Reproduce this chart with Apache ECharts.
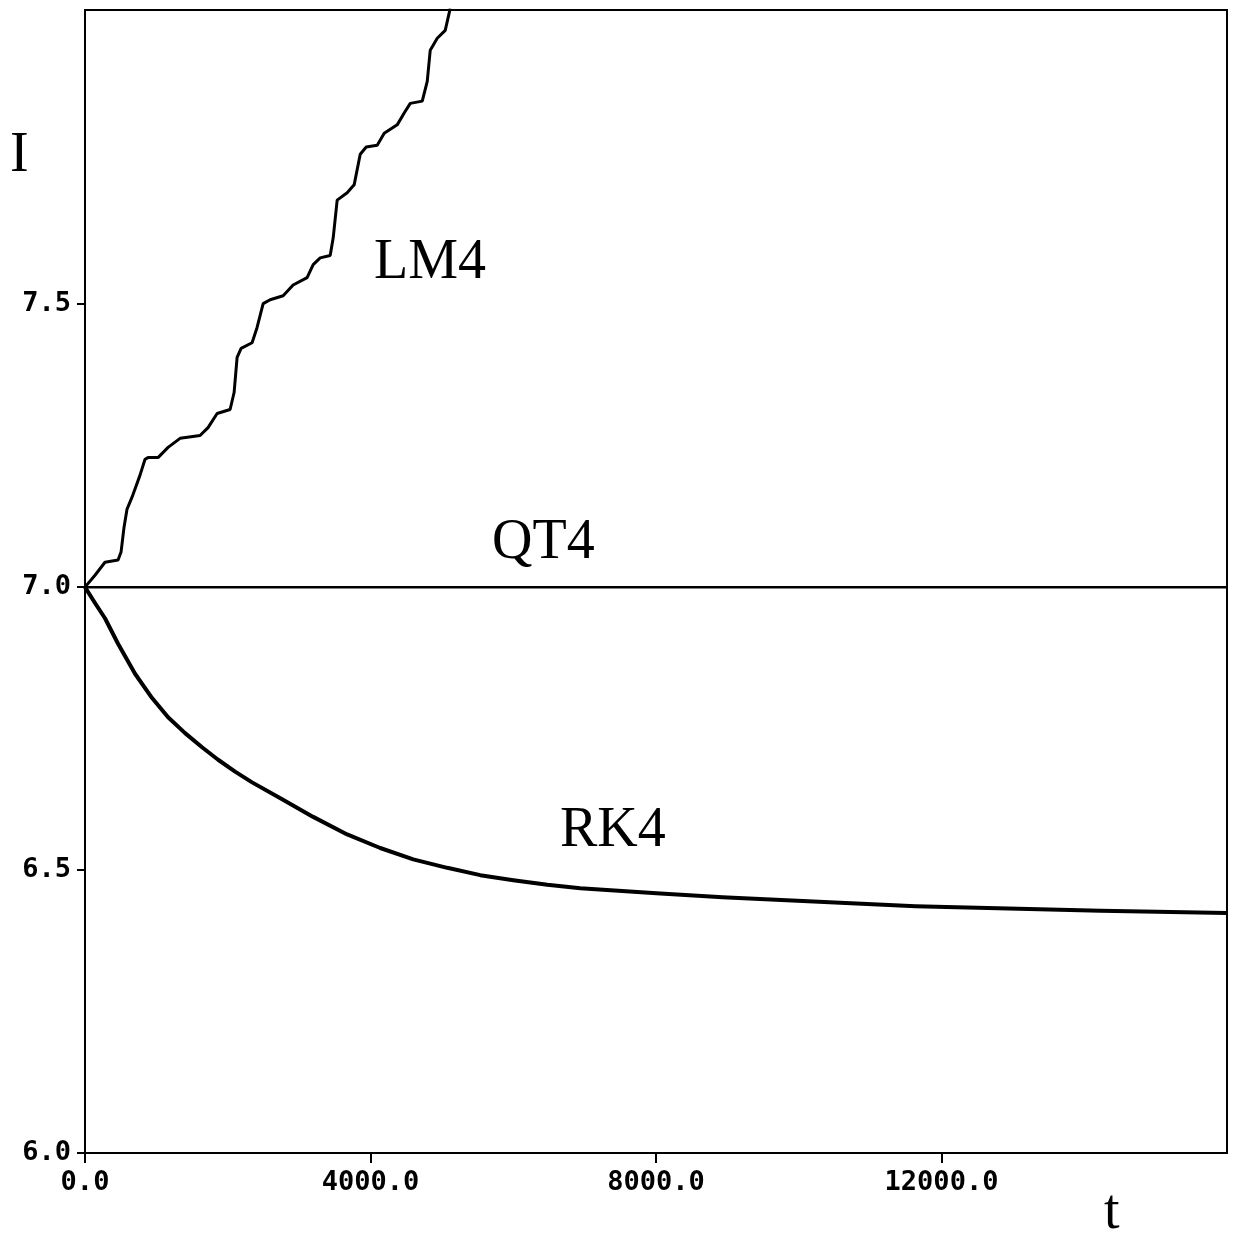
<!DOCTYPE html>
<html>
<head>
<meta charset="utf-8">
<script src="https://cdn.jsdelivr.net/npm/echarts@6/dist/echarts.min.js"></script>
<style>html,body{margin:0;padding:0;background:#fff}#c{width:1237px;height:1241px}</style>
</head>
<body>
<div id="c"></div>
<script>
// Data
const lm4T = [0,140,280,463,505,547,589,659,771,841,883,1023,1164,1332,1612,1724,1851,2033,2089,2131,2187,2341,2411,2496,2594,2776,2916,3112,3197,3295,3435,3477,3533,3673,3771,3856,3940,4094,4192,4374,4472,4557,4725,4795,4837,4935,5047,5117];
const lm4I = [7.000,7.021,7.044,7.048,7.062,7.106,7.138,7.159,7.198,7.226,7.229,7.229,7.247,7.263,7.268,7.282,7.307,7.314,7.344,7.406,7.422,7.432,7.459,7.501,7.508,7.515,7.534,7.547,7.570,7.582,7.586,7.617,7.684,7.697,7.711,7.765,7.778,7.781,7.802,7.817,7.838,7.855,7.859,7.894,7.949,7.970,7.984,8.023];
const qt4T = [0,16000];
const qt4I = [7.0,7.0];
const rk4T = [0,140,280,463,701,940,1164,1402,1640,1865,2103,2341,2762,3197,3673,4136,4599,5075,5538,6001,6478,6940,8005,8931,10431,11637,14230,16000];
const rk4I = [7.000,6.972,6.945,6.900,6.847,6.804,6.770,6.742,6.717,6.695,6.674,6.655,6.625,6.594,6.563,6.539,6.519,6.504,6.491,6.482,6.474,6.468,6.459,6.452,6.443,6.436,6.428,6.424];
const xTickValues = [0,4000,8000,12000];
const yTickValues = [6.0,6.5,7.0,7.5];
const seriesNames = ['LM4','QT4','RK4'];

const pairs = (a,b)=>a.map((v,i)=>[v,b[i]]);
const chart = echarts.init(document.getElementById('c'));
const tickFont = {fontFamily:'DejaVu Sans Mono', fontWeight:'bold', fontSize:27, color:'#000'};
const serif = {fontFamily:'Liberation Serif', fontSize:56, fill:'#000'};
chart.setOption({
  animation:false,
  backgroundColor:'#fff',
  grid:{left:85,right:10,top:10,bottom:88,show:true,borderColor:'#000',borderWidth:2,backgroundColor:'transparent'},
  xAxis:{type:'value',min:0,max:16000,interval:4000,
    axisLine:{lineStyle:{color:'#000',width:2}},
    axisTick:{customValues:xTickValues,length:10,lineStyle:{color:'#000',width:2}},
    axisLabel:Object.assign({customValues:xTickValues,margin:16,formatter:v=>v.toFixed(1)},tickFont),
    splitLine:{show:false}},
  yAxis:{type:'value',min:6,max:8.02,interval:0.5,
    axisLine:{show:true,lineStyle:{color:'#000',width:2}},
    axisTick:{show:true,customValues:yTickValues,length:8,lineStyle:{color:'#000',width:2}},
    axisLabel:Object.assign({customValues:yTickValues,margin:14,formatter:v=>v.toFixed(1)},tickFont),
    splitLine:{show:false}},
  series:[
    {name:seriesNames[0],type:'line',data:pairs(lm4T,lm4I),showSymbol:false,clip:true,lineStyle:{color:'#000',width:3}},
    {name:seriesNames[1],type:'line',data:pairs(qt4T,qt4I),showSymbol:false,lineStyle:{color:'#000',width:2.5}},
    {name:seriesNames[2],type:'line',data:pairs(rk4T,rk4I),showSymbol:false,smooth:false,lineStyle:{color:'#000',width:4,join:'round'}}
  ],
  graphic:[
    {type:'text',left:10,top:128,style:Object.assign({text:'I'},serif)},
    {type:'text',left:374,top:235,style:Object.assign({text:seriesNames[0]},serif)},
    {type:'text',left:492,top:515,style:Object.assign({text:seriesNames[1]},serif)},
    {type:'text',left:560,top:803,style:Object.assign({text:seriesNames[2]},serif)},
    {type:'text',left:1104,top:1185,style:Object.assign({text:'t'},serif)}
  ]
});
</script>
</body>
</html>
